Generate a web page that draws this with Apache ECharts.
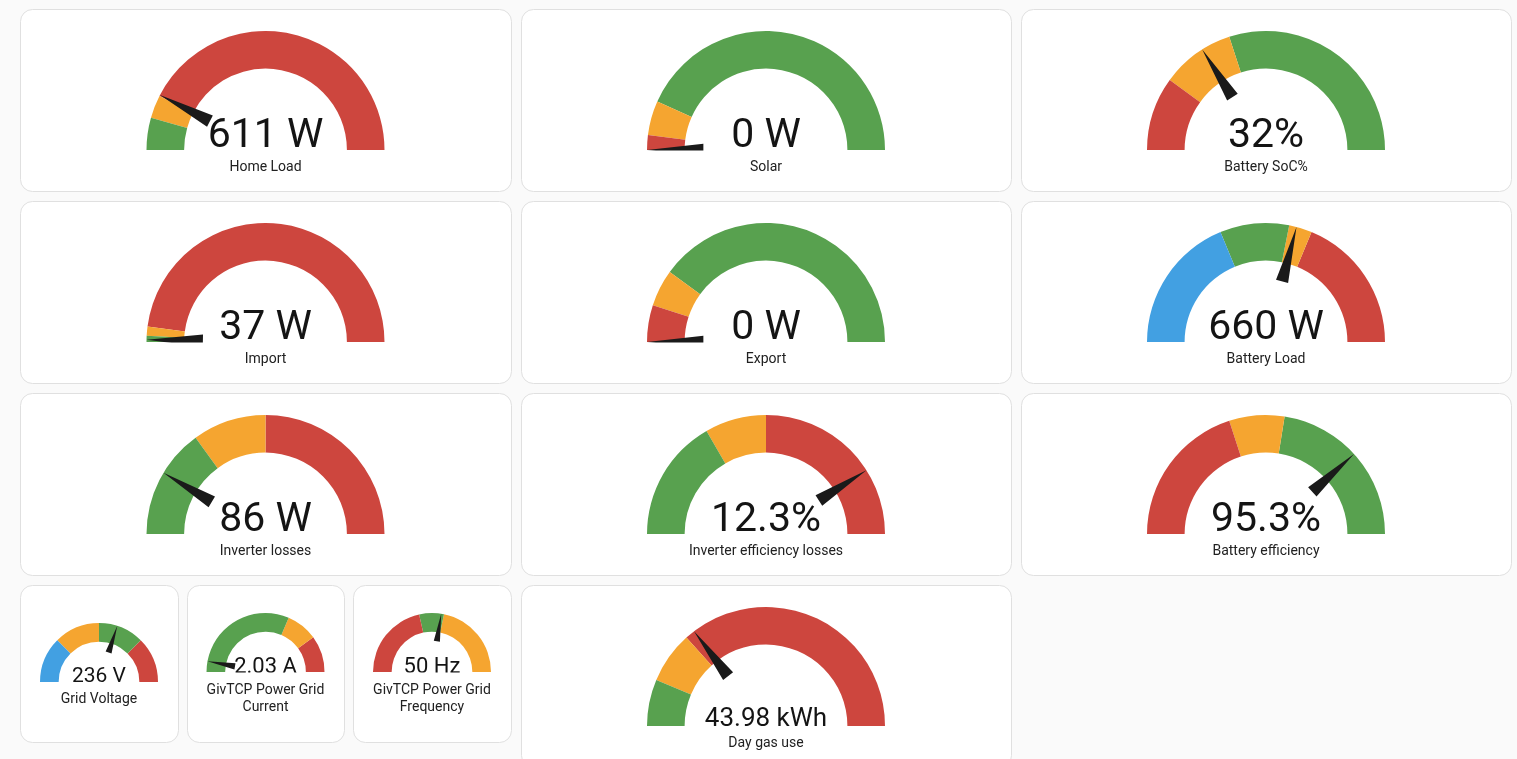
<!DOCTYPE html>
<html>
<head>
<meta charset="utf-8">
<title>Energy dashboard gauges</title>
<script src="https://cdn.jsdelivr.net/npm/echarts@6.0.0/dist/echarts.min.js"></script>
<style>
  html, body { margin: 0; padding: 0; background: #fafafa; }
  #main { width: 1517px; height: 759px; }
</style>
</head>
<body>
<div id="main"></div>
<script>
// gauge data (one entry per card, left to right, top to bottom)
const names = ['Home Load', 'Solar', 'Battery SoC%', 'Import', 'Export', 'Battery Load',
  'Inverter losses', 'Inverter efficiency losses', 'Battery efficiency',
  'Grid Voltage', 'GivTCP Power Grid\nCurrent', 'GivTCP Power Grid\nFrequency', 'Day gas use'];
const values = [611, 0, 32, 37, 0, 660, 86, 12.3, 95.3, 236, 2.03, 50.1, 43.98];
const units = ['W', 'W', '%', 'W', 'W', 'W', 'W', '%', '%', 'V', 'A', 'Hz', 'kWh'];
const decimals = [0, 0, 0, 0, 0, 0, 0, 1, 1, 0, 2, 0, 2];
const mins = [0, 0, 0, 0, 0, -4000, 0, 0, 80, 200, 0, 49, 0];
const maxs = [4000, 3000, 100, 6000, 5000, 4000, 500, 15, 100, 260, 35, 51, 150];
// where each severity band starts, and which severity it is
const bandStarts = [
  [0, 350, 600], [0, 120, 400], [0, 20, 40], [0, 100, 250], [0, 500, 1000],
  [-4000, -1000, 500, 1000], [0, 150, 250], [0, 5, 7.5], [80, 88, 91],
  [200, 215, 230, 245], [0, 22, 28], [49, 49.86, 50.13], [0, 19, 40]
];
const bandLevels = [
  ['ok', 'warn', 'bad'], ['bad', 'warn', 'ok'], ['bad', 'warn', 'ok'], ['ok', 'warn', 'bad'],
  ['bad', 'warn', 'ok'], ['info', 'ok', 'warn', 'bad'], ['ok', 'warn', 'bad'], ['ok', 'warn', 'bad'],
  ['bad', 'warn', 'ok'], ['info', 'warn', 'ok', 'bad'], ['ok', 'warn', 'bad'], ['bad', 'ok', 'warn'],
  ['ok', 'warn', 'bad']
];

// styles
const levelColor = { ok: '#58a14f', warn: '#f5a530', bad: '#cd463e', info: '#42a0e2' };

// card boxes [x, y, w, h] and gauge placement inside them
const cards = [
  [20, 9, 491, 182], [521, 9, 490, 182], [1021, 9, 490, 182],
  [20, 201, 491, 182], [521, 201, 490, 182], [1021, 201, 490, 182],
  [20, 393, 491, 182], [521, 393, 490, 182], [1021, 393, 490, 182],
  [20, 585, 158, 157], [187, 585, 157, 157], [353, 585, 158, 157],
  [521, 585, 490, 182]
];
const BIG = { r: 119, dy: 141, font: 41, valueY: -13, titleY: 17 };
const looks = [BIG, BIG, BIG, BIG, BIG, BIG, BIG, BIG, BIG,
  { r: 59, dy: 97, font: 21, valueY: -5.5, titleY: 17.5 },
  { r: 59, dy: 87, font: 22, valueY: -5, titleY: 26.5 },
  { r: 59, dy: 87, font: 22, valueY: -5, titleY: 26.5 },
  { r: 119, dy: 141, font: 26, valueY: -7, titleY: 17 }];

// needle from 0.53r out to the rim, like the Home Assistant gauge
const NEEDLE = 'path://M0,47.5L0.02,47.5L0,47.48Z M-2.5,22.5L0,0L2.5,22.5Z';

function fmt(i) {
  const sep = units[i] === '%' ? '' : ' ';
  return values[i].toFixed(decimals[i]) + sep + units[i];
}

const graphic = cards.map(c => ({
  type: 'rect',
  shape: { x: c[0] + 0.5, y: c[1] + 0.5, width: c[2], height: c[3], r: 12 },
  style: { fill: '#ffffff', stroke: '#e0e0e0', lineWidth: 1 },
  silent: true
}));
// the gauge face ends at its baseline: hide the part of the needle that falls below it
cards.forEach((c, i) => {
  const lk = looks[i];
  graphic.push({
    type: 'rect',
    z: 100,
    shape: { x: c[0] + c[2] / 2 - lk.r - 2, y: c[1] + lk.dy + 0.5, width: lk.r * 2 + 4, height: lk.r * 0.06 },
    style: { fill: '#ffffff' },
    silent: true
  });
});

const series = names.map((name, i) => {
  const c = cards[i], lk = looks[i];
  const span = maxs[i] - mins[i];
  const starts = bandStarts[i];
  const bands = starts.map((s, k) => [
    k + 1 < starts.length ? (starts[k + 1] - mins[i]) / span : 1,
    levelColor[bandLevels[i][k]]
  ]);
  return {
    type: 'gauge',
    center: [c[0] + c[2] / 2, c[1] + lk.dy],
    radius: lk.r,
    startAngle: 180,
    endAngle: 0,
    min: mins[i],
    max: maxs[i],
    splitNumber: 1,
    axisLine: { lineStyle: { width: lk.r * 0.316, color: bands } },
    axisTick: { show: false },
    splitLine: { show: false },
    axisLabel: { show: false },
    progress: { show: false },
    anchor: { show: false },
    pointer: {
      icon: NEEDLE,
      length: lk.r,
      width: lk.r * 0.105,
      itemStyle: { color: '#1a1a1a' }
    },
    title: {
      offsetCenter: [0, lk.titleY],
      fontSize: 14,
      lineHeight: 17,
      fontFamily: 'Roboto',
      color: '#212121'
    },
    detail: {
      offsetCenter: [0, lk.valueY],
      fontSize: lk.font,
      lineHeight: lk.font,
      fontFamily: 'Roboto',
      fontWeight: 'normal',
      color: '#141414',
      width: 300,
      padding: 0,
      formatter: () => fmt(i)
    },
    data: [{ value: values[i], name: name }]
  };
});

const chart = echarts.init(document.getElementById('main'));
chart.setOption({
  backgroundColor: '#fafafa',
  animation: false,
  graphic: graphic,
  series: series
});
</script>
</body>
</html>
